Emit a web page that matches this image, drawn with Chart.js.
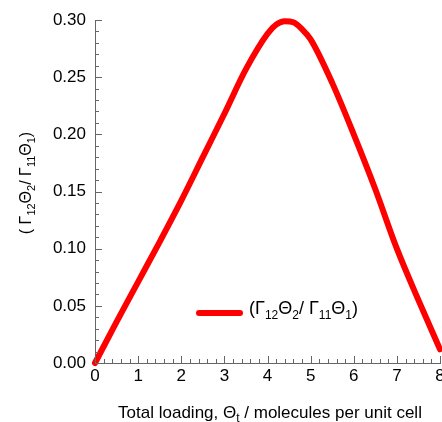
<!DOCTYPE html>
<html>
<head>
<meta charset="utf-8">
<script src="https://cdn.jsdelivr.net/npm/chart.js@4.4.1/dist/chart.umd.min.js"></script>
<style>
  html, body { margin: 0; padding: 0; background: #fff; }
  #wrap { width: 442px; height: 422px; }
</style>
</head>
<body>
<div id="wrap"><canvas id="myChart" width="442" height="422"></canvas></div>
<script>
'use strict';

// data
let loading = [0, 0.5, 1, 1.5, 2, 2.5, 3, 3.5, 4, 4.2, 4.4, 4.6, 4.8, 5, 5.5, 6, 6.5, 7, 7.5, 8];
let ratio = [0, 0.036, 0.071, 0.106, 0.142, 0.180, 0.218, 0.257, 0.288, 0.296, 0.299, 0.298, 0.292, 0.283, 0.245, 0.200, 0.152, 0.100, 0.055, 0.012];
let xTicks = [0, 1, 2, 3, 4, 5, 6, 7, 8];
let yTicks = [0, 0.05, 0.10, 0.15, 0.20, 0.25, 0.30];

// text pieces, second value = subscript or not
let ratioLabel = [['(Γ', 0], ['12', 1], ['Θ', 0], ['2', 1], ['/ Γ', 0], ['11', 1], ['Θ', 0], ['1', 1], [')', 0]];
let yTitle = [['( Γ', 0], ['12', 1], ['Θ', 0], ['2', 1], ['/ Γ', 0], ['11', 1], ['Θ', 0], ['1', 1], [')', 0]];
let xTitle = [['Total loading, Θ', 0], ['t', 1], [' / molecules per unit cell', 0]];

let fontFamily = '"Liberation Sans", Arial, sans-serif';
let axisColor = '#666666';

let points = [];
for (let i = 0; i < loading.length; i++) {
  points.push({ x: loading[i], y: ratio[i] });
}

function richWidth(ctx, parts, size, subSize) {
  let w = 0;
  for (let i = 0; i < parts.length; i++) {
    ctx.font = (parts[i][1] ? subSize : size) + 'px ' + fontFamily;
    w += ctx.measureText(parts[i][0]).width;
  }
  return w;
}

function drawRich(ctx, parts, x, y, size, subSize, drop) {
  ctx.textBaseline = 'alphabetic';
  ctx.textAlign = 'left';
  for (let i = 0; i < parts.length; i++) {
    ctx.font = (parts[i][1] ? subSize : size) + 'px ' + fontFamily;
    ctx.fillText(parts[i][0], x, parts[i][1] ? y + drop : y);
    x += ctx.measureText(parts[i][0]).width;
  }
}

// inward ticks + titles + legend
const extrasPlugin = {
  id: 'extras',
  afterDraw(chart) {
    const ctx = chart.ctx;
    const xs = chart.scales.x;
    const ys = chart.scales.y;
    const area = chart.chartArea;
    ctx.save();
    ctx.strokeStyle = axisColor;
    ctx.lineWidth = 1;
    ctx.beginPath();
    for (let i = 0; i <= 40; i++) {
      let px = Math.round(xs.getPixelForValue(i * 0.2)) + 0.5;
      let len = i % 5 === 0 ? 7 : 4;
      ctx.moveTo(px, area.bottom);
      ctx.lineTo(px, area.bottom - len);
    }
    for (let j = 0; j <= 30; j++) {
      let py = Math.round(ys.getPixelForValue(j * 0.01)) + 0.5;
      let len = j % 5 === 0 ? 7 : 4;
      ctx.moveTo(area.left, py);
      ctx.lineTo(area.left + len, py);
    }
    ctx.stroke();

    ctx.fillStyle = '#000';
    // x title
    let w = richWidth(ctx, xTitle, 17, 12);
    drawRich(ctx, xTitle, 270 - w / 2, 418, 17, 12, 4);
    // y title
    ctx.save();
    ctx.translate(31, 183);
    ctx.rotate(-Math.PI / 2);
    w = richWidth(ctx, yTitle, 16, 11);
    drawRich(ctx, yTitle, -w / 2, 0, 16, 11, 4);
    ctx.restore();

    // legend
    ctx.strokeStyle = chart.data.datasets[0].borderColor;
    ctx.lineWidth = 6;
    ctx.lineCap = 'round';
    ctx.beginPath();
    ctx.moveTo(199, 313);
    ctx.lineTo(240, 313);
    ctx.stroke();
    ctx.fillStyle = '#000';
    drawRich(ctx, ratioLabel, 249, 314, 18, 12, 5);
    ctx.restore();
  }
};

const chartConfig = {
  type: 'line',
  data: {
    datasets: [{
      label: '(Γ12Θ2/ Γ11Θ1)',
      data: points,
      borderColor: '#ff0000',
      backgroundColor: '#ff0000',
      borderWidth: 6,
      pointRadius: 0,
      tension: 0.4,
      cubicInterpolationMode: 'monotone',
      borderCapStyle: 'round',
      clip: false
    }]
  },
  options: {
    responsive: false,
    animation: false,
    layout: { padding: { left: 0, right: 2, top: 20, bottom: 0 } },
    plugins: {
      legend: { display: false },
      tooltip: { enabled: false }
    },
    scales: {
      x: {
        type: 'linear',
        min: 0,
        max: 8,
        afterBuildTicks(scale) {
          scale.ticks = xTicks.map(v => ({ value: v }));
        },
        afterFit(scale) {
          scale.height = 59;
          scale.paddingLeft = 0;
          scale.paddingRight = 0;
        },
        ticks: {
          color: '#000',
          font: { family: fontFamily, size: 17 },
          padding: 3,
          maxRotation: 0
        },
        grid: { drawOnChartArea: false, drawTicks: false },
        border: { color: axisColor, width: 1 }
      },
      y: {
        min: 0,
        max: 0.30,
        afterBuildTicks(scale) {
          scale.ticks = yTicks.map(v => ({ value: v }));
        },
        afterFit(scale) {
          scale.width = 95;
        },
        ticks: {
          color: '#000',
          font: { family: fontFamily, size: 17 },
          padding: 9,
          callback: v => v.toFixed(2)
        },
        grid: { drawOnChartArea: false, drawTicks: false },
        border: { color: axisColor, width: 1 }
      }
    }
  },
  plugins: [extrasPlugin]
};

let canvasChart = document.getElementById('myChart').getContext('2d');
const myChart = new Chart(canvasChart, chartConfig);
</script>
</body>
</html>
